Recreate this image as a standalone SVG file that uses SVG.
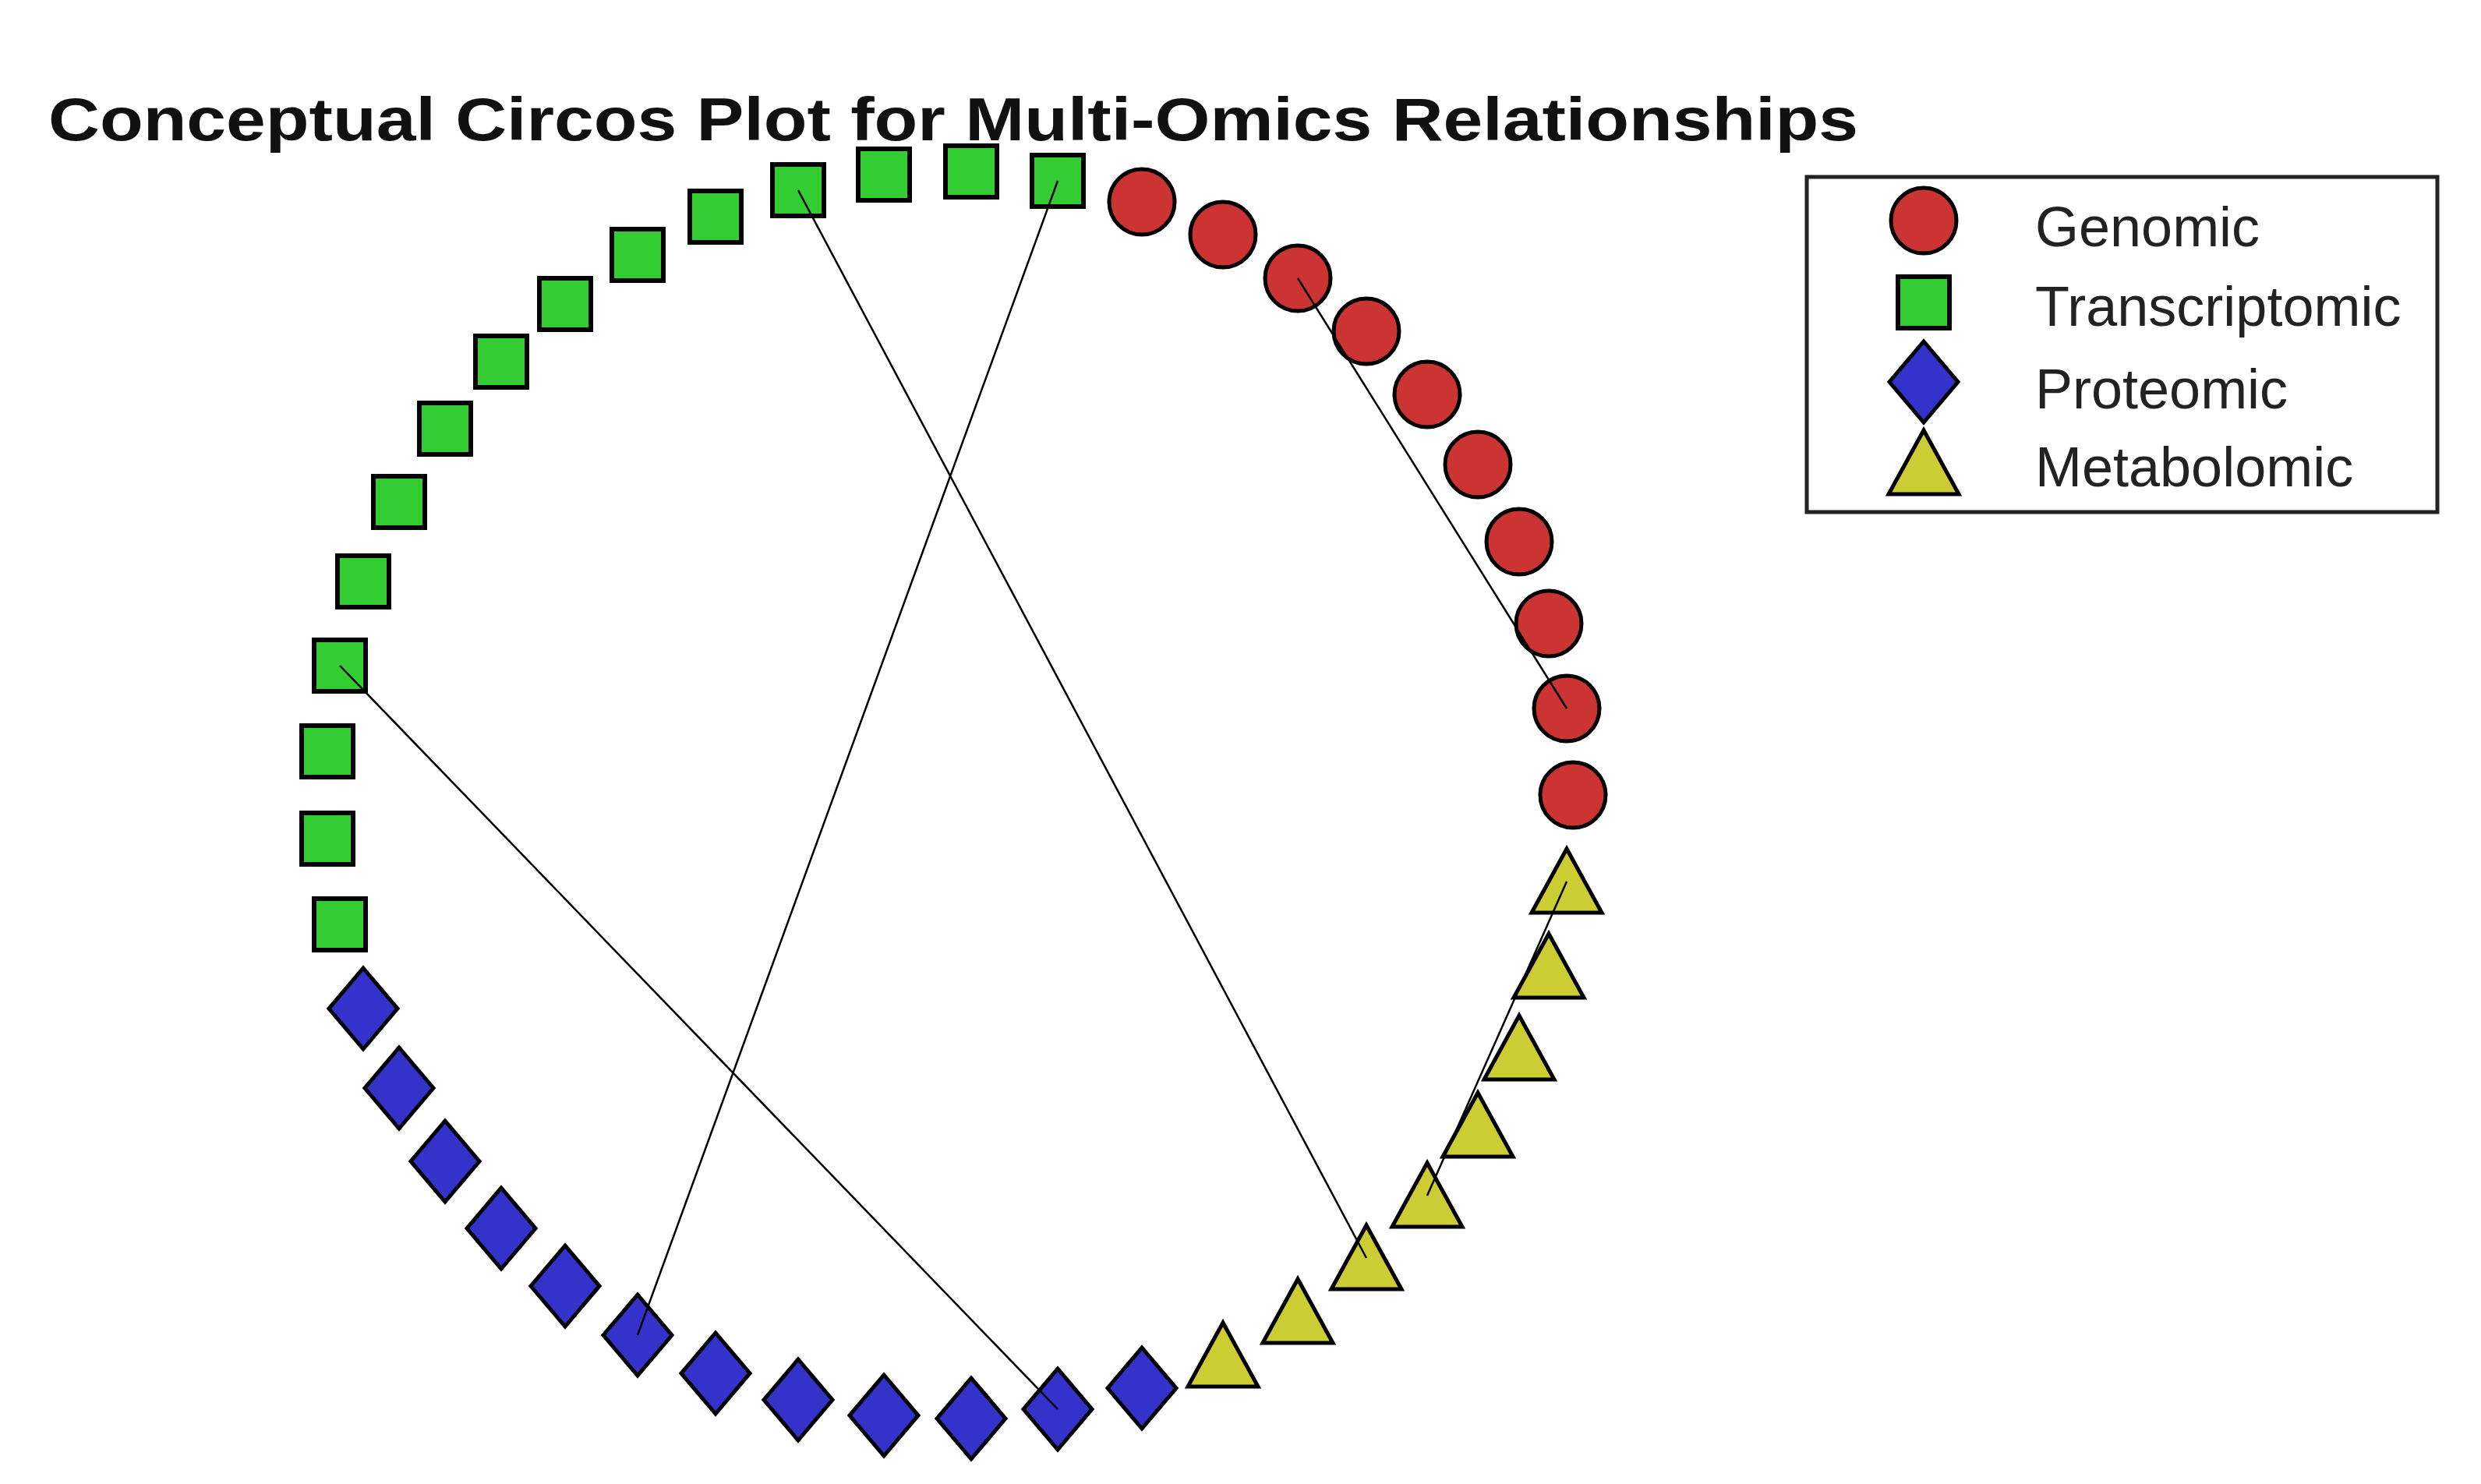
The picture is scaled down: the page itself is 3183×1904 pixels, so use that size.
<svg xmlns="http://www.w3.org/2000/svg" xmlns:xlink="http://www.w3.org/1999/xlink" width="3183" height="1904" viewBox="0 0 3183 1904">
<style>
.g{fill:#CC3333;stroke:#000;stroke-width:5}
.t{fill:#33CC33;stroke:#000;stroke-width:6}
.p{fill:#3333CC;stroke:#000;stroke-width:5}
.m{fill:#CCCC33;stroke:#000;stroke-width:5}
.e{stroke:#000;stroke-width:2.5;fill:none}
.lt{font-family:"Liberation Sans",Arial,sans-serif;font-size:72px;fill:#222}
</style>
<defs>
<circle id="G" class="g" r="42"/>
<rect id="T" class="t" x="-33" y="-33" width="66" height="66"/>
<polygon id="P" class="p" points="0,-52 44,0 0,52 -44,0"/>
<polygon id="M" class="m" points="0,-42 45,40 -45,40"/>
</defs>
<rect width="3183" height="1904" fill="#fff"/>
<text x="62" y="180" font-family="Liberation Sans,Arial,sans-serif" font-weight="bold" font-size="78" textLength="2322" lengthAdjust="spacingAndGlyphs" fill="#111">Conceptual Circos Plot for Multi-Omics Relationships</text>
<g transform="translate(-8,-4)">
<g id="genomic">
<use href="#G" x="2026" y="1024"/><use href="#G" x="2018" y="913"/><use href="#G" x="1995" y="804"/><use href="#G" x="1957" y="699"/><use href="#G" x="1904" y="600"/><use href="#G" x="1839" y="510"/><use href="#G" x="1761" y="429"/><use href="#G" x="1673" y="361"/><use href="#G" x="1577" y="305"/><use href="#G" x="1473" y="263"/>
</g>
<g id="transcriptomic">
<use href="#T" x="1365" y="236"/><use href="#T" x="1254" y="224"/><use href="#T" x="1142" y="228"/><use href="#T" x="1032" y="248"/><use href="#T" x="926" y="282"/><use href="#T" x="826" y="331"/><use href="#T" x="733" y="394"/><use href="#T" x="651" y="468"/><use href="#T" x="579" y="554"/><use href="#T" x="520" y="648"/><use href="#T" x="474" y="750"/><use href="#T" x="444" y="858"/><use href="#T" x="428" y="968"/><use href="#T" x="428" y="1080"/><use href="#T" x="444" y="1190"/>
</g>
<g id="proteomic">
<use href="#P" x="474" y="1298"/><use href="#P" x="520" y="1400"/><use href="#P" x="579" y="1494"/><use href="#P" x="651" y="1580"/><use href="#P" x="733" y="1654"/><use href="#P" x="826" y="1717"/><use href="#P" x="926" y="1766"/><use href="#P" x="1032" y="1800"/><use href="#P" x="1142" y="1820"/><use href="#P" x="1254" y="1824"/><use href="#P" x="1365" y="1812"/><use href="#P" x="1473" y="1785"/>
</g>
<g id="metabolomic">
<use href="#M" x="1577" y="1743"/><use href="#M" x="1673" y="1687"/><use href="#M" x="1761" y="1618"/><use href="#M" x="1839" y="1538"/><use href="#M" x="1904" y="1448"/><use href="#M" x="1957" y="1349"/><use href="#M" x="1995" y="1244"/><use href="#M" x="2018" y="1135"/>
</g>
<g id="connectors" class="e">
<line x1="1032" y1="248" x2="1761" y2="1618"/>
<line x1="1365" y1="236" x2="826" y2="1717"/>
<line x1="444" y1="858" x2="1365" y2="1812"/>
<line x1="1673" y1="361" x2="2018" y2="913"/>
<line x1="2018" y1="1135" x2="1839" y2="1538"/>
</g>
</g>
<g id="legend">
<rect x="2318" y="227" width="809" height="430" fill="#fff" stroke="#222" stroke-width="5"/>
<use href="#G" x="2468" y="283"/>
<use href="#T" x="2468" y="388"/>
<use href="#P" x="2468" y="490"/>
<use href="#M" x="2468" y="594"/>
<text class="lt" x="2611" y="316">Genomic</text>
<text class="lt" x="2611" y="418">Transcriptomic</text>
<text class="lt" x="2611" y="524">Proteomic</text>
<text class="lt" x="2611" y="624">Metabolomic</text>
</g>
</svg>
